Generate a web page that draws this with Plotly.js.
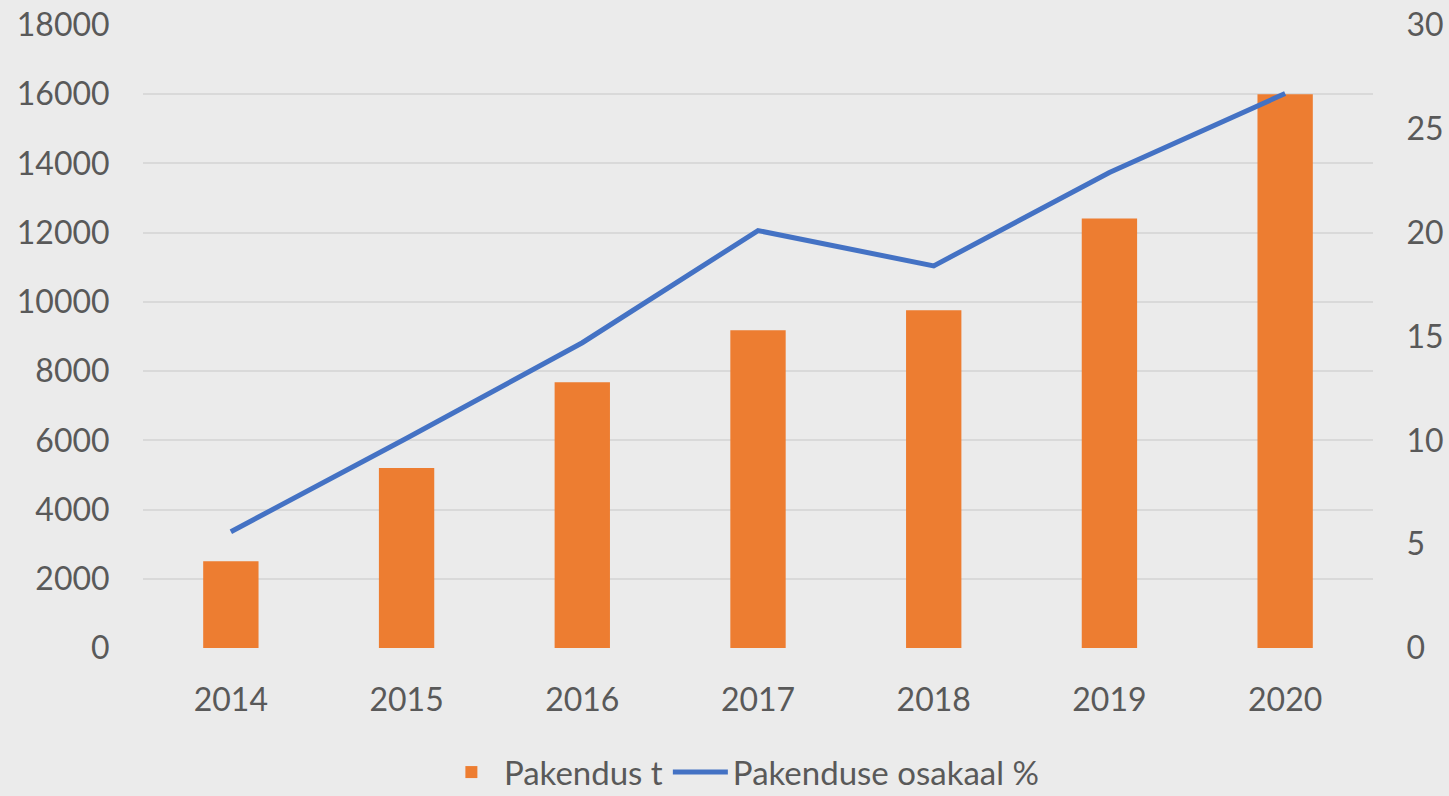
<!DOCTYPE html>
<html><head><meta charset="utf-8">
<script src="https://cdn.plot.ly/plotly-3.0.1.min.js"></script>
<style>html,body{margin:0;padding:0;background:#ebebeb;}#chart{width:1449px;height:796px;}</style>
</head><body><div id="chart"></div>
<script>
const years = ['2014','2015','2016','2017','2018','2019','2020'];
const pakendus = [2510, 5200, 7680, 9180, 9760, 12410, 16000];
const osakaal = [5.6, 10.1, 14.7, 20.1, 18.4, 22.9, 26.7];

const font = {family: 'Lato, "Open Sans", sans-serif', size: 32, color: '#595959'};
const legendFont = {family: 'Lato, "Open Sans", sans-serif', size: 33, color: '#595959'};
const traces = [
  {type:'bar', x: years, y: pakendus, name:'Pakendus t', marker:{color:'#ED7D31'}, yaxis:'y', width:0.315},
  {type:'scatter', mode:'lines', x: years, y: osakaal, name:'Pakenduse osakaal %', line:{color:'#4472C4', width:5}, yaxis:'y2'}
];
const layout = {
  width:1449, height:796,
  paper_bgcolor:'#ebebeb', plot_bgcolor:'#ebebeb',
  margin:{l:143, r:76, t:25, b:148, autoexpand:false},
  font: font,
  showlegend:true,
  legend:{orientation:'h', x:0.512, xanchor:'center', xref:'container', y:0.03, yanchor:'middle', yref:'container', font:legendFont, bgcolor:'rgba(0,0,0,0)', itemwidth:55, tracegroupgap:0},
  xaxis:{type:'category', showgrid:false, zeroline:false, showline:false, ticks:'outside', ticklen:24, tickcolor:'rgba(0,0,0,0)', tickfont:font, automargin:false},
  yaxis:{range:[0,18000], dtick:2000, tickformat:'d', showgrid:true, gridcolor:'#d9d9d9', gridwidth:2, zeroline:false, showline:false, ticks:'outside', ticklen:26, tickcolor:'rgba(0,0,0,0)', tickfont:font, automargin:false},
  yaxis2:{range:[0,30], dtick:5, overlaying:'y', side:'right', showgrid:false, zeroline:false, showline:false, ticks:'outside', ticklen:26, tickcolor:'rgba(0,0,0,0)', tickfont:font, automargin:false},
  bargap:0.685
};
Plotly.newPlot('chart', traces, layout, {displayModeBar:false});
</script></body></html>
